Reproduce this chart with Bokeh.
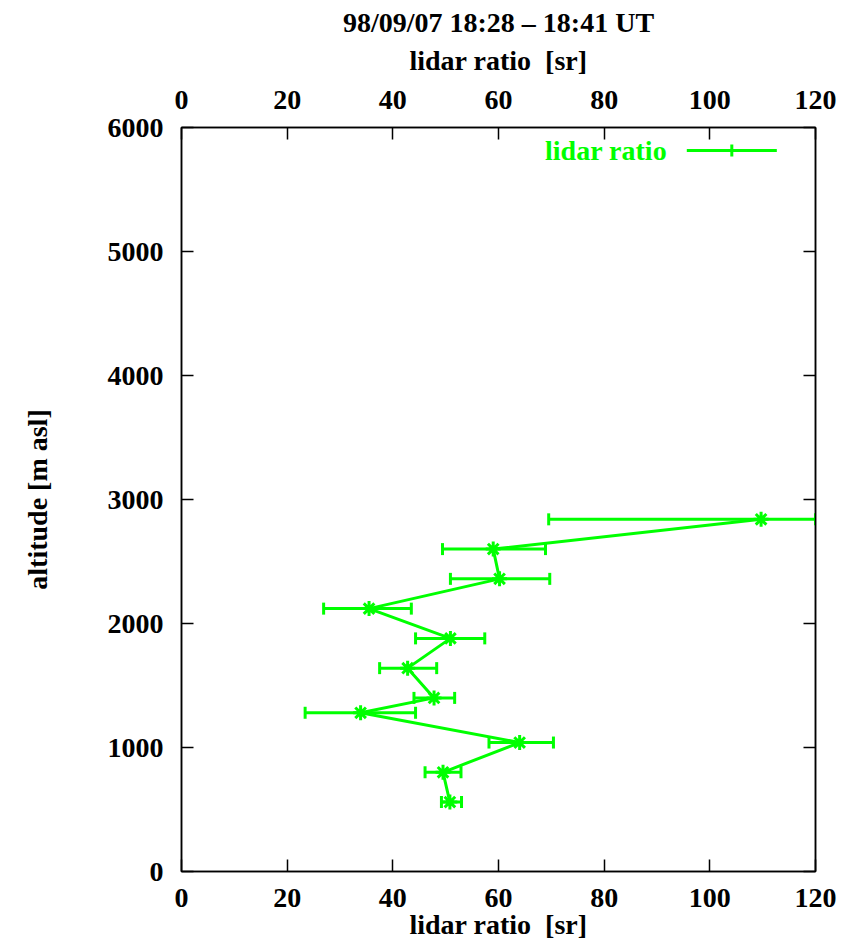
import math
from bokeh.plotting import figure
from bokeh.models import (LinearAxis, Range1d, Whisker, TeeHead, ColumnDataSource,
                          Label, FixedTicker)
from bokeh.embed import file_html
from bokeh.resources import INLINE

# ---- data ----
altitude = [2840, 2600, 2360, 2120, 1880, 1640, 1400, 1280, 1040, 800, 560]
lidar_ratio = [109.7, 59.0, 60.2, 35.5, 50.9, 42.8, 47.8, 33.9, 64.0, 49.5, 50.8]
err_low = [69.5, 49.4, 50.9, 26.9, 44.3, 37.5, 44.0, 23.4, 58.2, 46.1, 49.2]
err_high = [120.0, 68.9, 69.7, 43.5, 57.4, 48.3, 51.7, 44.3, 70.4, 52.9, 53.0]

x_ticks = [0, 20, 40, 60, 80, 100, 120]
y_ticks = [0, 1000, 2000, 3000, 4000, 5000, 6000]

title_text = "98/09/07 18:28 \u2013 18:41 UT"
x_label = "lidar ratio \u00a0[sr]"
y_label = "altitude [m asl]"
series_name = "lidar ratio"

GREEN = "#00ff00"
FONT = "Liberation Serif"
FS = "28px"

src = ColumnDataSource(dict(alt=altitude, lr=lidar_ratio, lo=err_low, hi=err_high))

p = figure(frame_width=634, frame_height=744,
           x_range=Range1d(x_ticks[0], x_ticks[-1]),
           y_range=Range1d(y_ticks[0], y_ticks[-1]),
           output_backend="svg", toolbar_location=None,
           min_border_left=181, min_border_right=41,
           min_border_top=127, min_border_bottom=73,
           background_fill_color="white", border_fill_color="white")

p.grid.visible = False
p.outline_line_color = "black"
p.outline_line_width = 1.5

def style_axis(ax, ticks, show_labels=True):
    ax.ticker = FixedTicker(ticks=ticks)
    ax.major_tick_in = 12
    ax.major_tick_out = 0
    ax.minor_tick_line_color = None
    ax.axis_line_color = "black"
    ax.axis_line_width = 1.5
    ax.major_tick_line_width = 1.5
    ax.major_tick_line_color = "black"
    ax.major_label_text_font = FONT
    ax.major_label_text_font_style = "bold"
    ax.major_label_text_font_size = FS
    ax.major_label_text_color = "black"
    ax.axis_label_text_font = FONT
    ax.axis_label_text_font_style = "bold"
    ax.axis_label_text_font_size = FS
    ax.axis_label_text_color = "black"
    if not show_labels:
        ax.major_label_overrides = {t: "" for t in ticks}

style_axis(p.xaxis[0], x_ticks)
p.xaxis[0].axis_label = x_label
p.xaxis[0].major_label_standoff = 17
p.xaxis[0].axis_label_standoff = -1

style_axis(p.yaxis[0], y_ticks)
p.yaxis[0].axis_label = y_label
p.yaxis[0].major_label_standoff = 18
p.yaxis[0].axis_label_standoff = 52

top_ax = LinearAxis()
style_axis(top_ax, x_ticks)
top_ax.axis_label = x_label
top_ax.major_label_standoff = 19
top_ax.axis_label_standoff = 12
p.add_layout(top_ax, "above")

right_ax = LinearAxis()
style_axis(right_ax, y_ticks, show_labels=False)
right_ax.major_label_standoff = 0
p.add_layout(right_ax, "right")

p.title.text = title_text
p.title.align = "center"
p.title.text_font = FONT
p.title.text_font_style = "bold"
p.title.text_font_size = FS
p.title.text_color = "black"
p.title.standoff = 7

# error bars
whisk = Whisker(source=src, base="alt", lower="lo", upper="hi", dimension="width",
                line_color=GREEN, line_width=3,
                lower_head=TeeHead(size=12, line_color=GREEN, line_width=3),
                upper_head=TeeHead(size=12, line_color=GREEN, line_width=3))
p.add_layout(whisk)

p.line("lr", "alt", source=src, line_color=GREEN, line_width=3)
p.scatter("lr", "alt", source=src, marker="asterisk", size=15,
          line_color=GREEN, line_width=3)

# key (gnuplot style: text then sample line with errorbar tick)
xr = x_ticks[-1] - x_ticks[0]
yr = y_ticks[-1] - y_ticks[0]
key_y = y_ticks[-1] - 0.0308 * yr
key_text_x = x_ticks[0] + 0.766 * xr
key_l0 = x_ticks[0] + 0.797 * xr
key_l1 = x_ticks[0] + 0.939 * xr
key_mid = x_ticks[0] + 0.868 * xr

p.add_layout(Label(x=key_text_x, y=key_y, text=series_name, text_align="right",
                   text_baseline="middle", text_font=FONT, text_font_style="bold",
                   text_font_size=FS, text_color=GREEN))
p.segment(x0=[key_l0], y0=[key_y], x1=[key_l1], y1=[key_y], line_color=GREEN, line_width=3)
p.scatter(x=[key_mid], y=[key_y], marker="dash", angle=math.pi / 2, size=12,
          line_color=GREEN, line_width=3)

open("out.html", "w").write(file_html(p, INLINE))
